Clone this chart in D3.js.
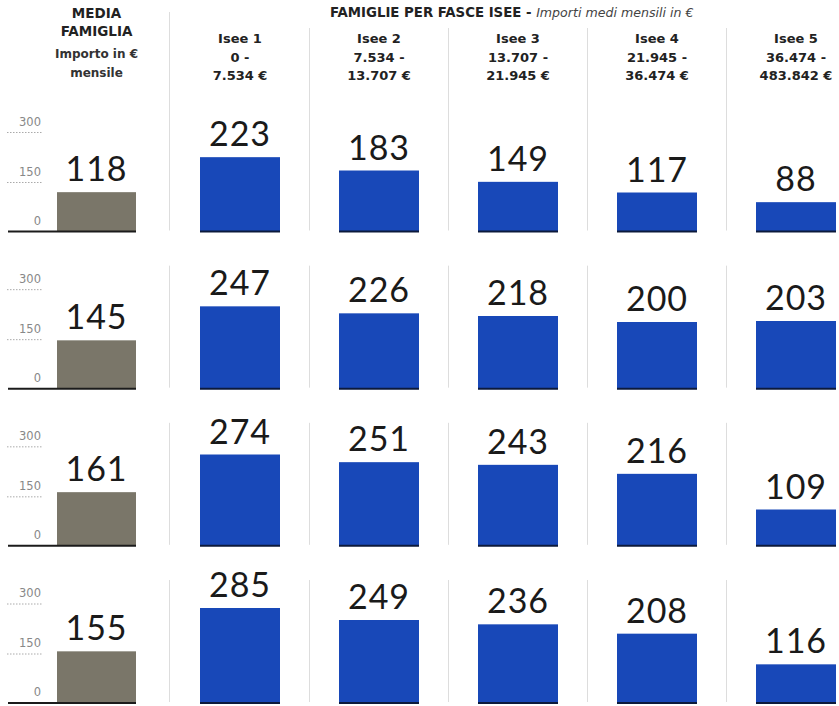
<!DOCTYPE html>
<html>
<head>
<meta charset="utf-8">
<script src="https://cdn.jsdelivr.net/npm/d3@7"></script>
<style>
  body { margin: 0; background: #fff; }
  svg { display: block; }
</style>
</head>
<body>
<div id="chart"></div>
<script>
// Dati
const fasce = ["Isee 1", "Isee 2", "Isee 3", "Isee 4", "Isee 5"];
const fasceDa = ["0 -", "7.534 -", "13.707 -", "21.945 -", "36.474 -"];
const fasceA = ["7.534 €", "13.707 €", "21.945 €", "36.474 €", "483.842 €"];

const mediaFamiglia = [118, 145, 161, 155];

const riga1 = [223, 183, 149, 117, 88];
const riga2 = [247, 226, 218, 200, 203];
const riga3 = [274, 251, 243, 216, 109];
const riga4 = [285, 249, 236, 208, 116];
const righe = [riga1, riga2, riga3, riga4];

const tickValori = [0, 150, 300];

//---------------------------------------------------------------------------------------

const width = 839;
const height = 706;

const colBlu = "#1848b8";
const colMedia = "#7a7669";
const fontNum = "Lato, 'Noto Sans', sans-serif";
const fontHead = "'DejaVu Sans', sans-serif";

const svg = d3.select("#chart")
    .append("svg")
    .attr("width", width)
    .attr("height", height);

//---------------------------------------------------------------------------------------

// Scale

// posizione delle colonne Isee
const scaleX = d3.scaleBand()
    .domain(fasce)
    .range([170.5, 865.5])
    .paddingInner(0.4245)
    .paddingOuter(0.21225);

// colonna media famiglia
const mediaX = 57;
const mediaW = 79;

// linea di base di ogni riga
const scaleRow = d3.scaleLinear()
    .domain([0, righe.length - 1])
    .range([231.5, 703]);

// altezza delle barre
const scaleH = d3.scaleLinear()
    .domain([0, 300])
    .range([0, 100]);

//---------------------------------------------------------------------------------------

// Intestazioni

const head = svg.append("g")
    .attr("fill", "#222")
    .attr("font-family", fontHead)
    .attr("text-anchor", "middle");

head.append("text")
    .attr("x", mediaX + mediaW / 2)
    .attr("y", 18)
    .attr("font-size", "13.5px")
    .attr("font-weight", "bold")
    .text("MEDIA");

head.append("text")
    .attr("x", mediaX + mediaW / 2)
    .attr("y", 36)
    .attr("font-size", "13.5px")
    .attr("font-weight", "bold")
    .text("FAMIGLIA");

head.append("text")
    .attr("x", mediaX + mediaW / 2)
    .attr("y", 58)
    .attr("font-size", "12px")
    .attr("font-weight", "bold")
    .attr("fill", "#333")
    .text("Importo in €");

head.append("text")
    .attr("x", mediaX + mediaW / 2)
    .attr("y", 77)
    .attr("font-size", "12px")
    .attr("font-weight", "bold")
    .attr("fill", "#333")
    .text("mensile");

// titolo delle fasce
const titolo = head.append("text")
    .attr("x", 330)
    .attr("y", 17)
    .attr("text-anchor", "start");

titolo.append("tspan")
    .attr("font-weight", "bold")
    .attr("font-size", "13.3px")
    .text("FAMIGLIE PER FASCE ISEE - ");

titolo.append("tspan")
    .attr("font-style", "italic")
    .attr("font-size", "12.6px")
    .attr("fill", "#444")
    .text("Importi medi mensili in €");

// etichette delle colonne
const colHead = head.selectAll(".col-head")
    .data(fasce)
    .join("g")
    .attr("class", "col-head")
    .attr("transform", d => `translate(${scaleX(d) + scaleX.bandwidth() / 2}, 0)`)
    .attr("font-size", "13px")
    .attr("font-weight", "bold");

colHead.append("text").attr("y", 43).text(d => d);
colHead.append("text").attr("y", 62).text((d, i) => fasceDa[i]);
colHead.append("text").attr("y", 80).text((d, i) => fasceA[i]);

//---------------------------------------------------------------------------------------

// Separatori verticali

const separatori = [mediaX + mediaW + 33.5].concat(fasce.slice(1).map(d => scaleX(d) - 29.5));

righe.forEach((riga, r) => {
    const base = scaleRow(r);
    svg.append("g")
        .selectAll("line")
        .data(separatori)
        .join("line")
        .attr("x1", d => d)
        .attr("x2", d => d)
        .attr("y1", (d, i) => r === 0 ? (i === 0 ? 12 : 28) : base - 123)
        .attr("y2", base - 1)
        .attr("stroke", "#ddd")
        .attr("stroke-width", 1);
});

//---------------------------------------------------------------------------------------

// Righe del grafico

righe.forEach((riga, r) => {

    const base = scaleRow(r);
    const g = svg.append("g");

    // asse a sinistra
    const ticks = g.selectAll(".tick")
        .data(tickValori)
        .join("g")
        .attr("class", "tick")
        .attr("transform", d => `translate(0, ${base - scaleH(d)})`);

    ticks.append("text")
        .attr("x", 41)
        .attr("y", d => d > 0 ? -6 : -7)
        .attr("text-anchor", "end")
        .attr("font-family", fontHead)
        .attr("font-size", "11.5px")
        .attr("fill", "#888")
        .text(d => d);

    ticks.filter(d => d > 0)
        .append("line")
        .attr("x1", 7)
        .attr("x2", 42)
        .attr("y1", 1)
        .attr("y2", 1)
        .attr("stroke", "#aaa")
        .attr("stroke-width", 1)
        .attr("stroke-dasharray", "1.5,1.5");

    // barra media famiglia
    const vMedia = mediaFamiglia[r];
    g.append("rect")
        .attr("x", mediaX)
        .attr("y", base - scaleH(vMedia))
        .attr("width", mediaW)
        .attr("height", scaleH(vMedia))
        .attr("fill", colMedia);

    g.append("line")
        .attr("x1", 8)
        .attr("x2", mediaX + mediaW)
        .attr("y1", base)
        .attr("y2", base)
        .attr("stroke", "#1b1b1b")
        .attr("stroke-width", 2);

    g.append("text")
        .attr("x", mediaX + mediaW / 2)
        .attr("y", base - scaleH(vMedia) - 11)
        .attr("text-anchor", "middle")
        .attr("font-family", fontNum)
        .attr("font-size", "34px")
        .attr("letter-spacing", "1px")
        .attr("fill", "#1a1a1a")
        .text(vMedia);

    // barre per fascia
    g.selectAll(".bar")
        .data(riga)
        .join("rect")
        .attr("class", "bar")
        .attr("x", (d, i) => scaleX(fasce[i]))
        .attr("y", d => base - scaleH(d))
        .attr("width", scaleX.bandwidth())
        .attr("height", d => scaleH(d))
        .attr("fill", colBlu);

    g.selectAll(".base")
        .data(riga)
        .join("line")
        .attr("class", "base")
        .attr("x1", (d, i) => scaleX(fasce[i]))
        .attr("x2", (d, i) => scaleX(fasce[i]) + scaleX.bandwidth())
        .attr("y1", base)
        .attr("y2", base)
        .attr("stroke", "#0c1a3c")
        .attr("stroke-width", 2);

    g.selectAll(".val")
        .data(riga)
        .join("text")
        .attr("class", "val")
        .attr("x", (d, i) => scaleX(fasce[i]) + scaleX.bandwidth() / 2)
        .attr("y", d => base - scaleH(d) - 11)
        .attr("text-anchor", "middle")
        .attr("font-family", fontNum)
        .attr("font-size", "34px")
        .attr("letter-spacing", "1px")
        .attr("fill", "#1a1a1a")
        .text(d => d);
});
</script>
</body>
</html>
